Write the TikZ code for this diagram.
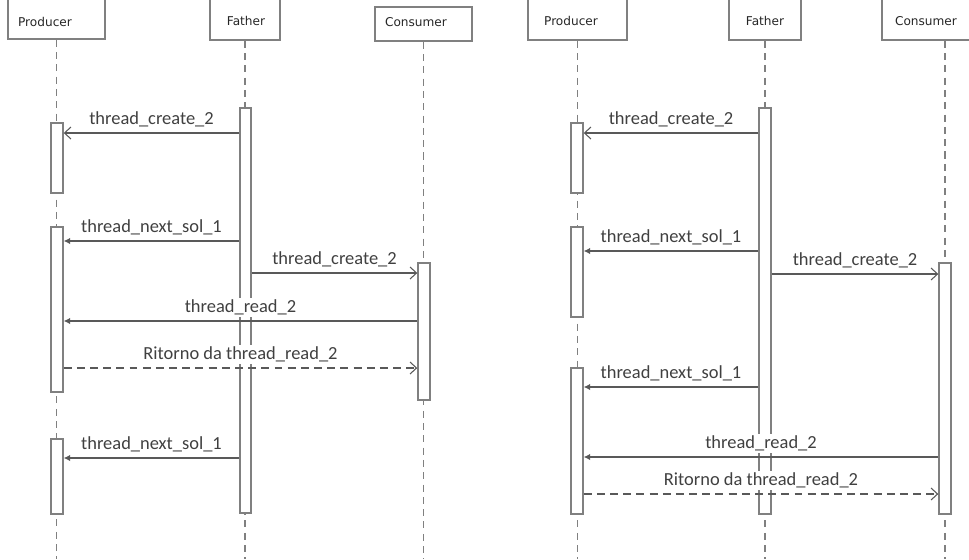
\documentclass[tikz,border=0pt]{standalone}
\usepackage{fontspec}
\setmainfont{Carlito}
\newfontfamily\hdfont{DejaVu Sans}
\usetikzlibrary{arrows.meta, fit}

\begin{document}
\begin{tikzpicture}[x=0.02cm, y=-0.02cm,
    hd/.style={draw=black!50, fill=white, line width=0.9pt, inner sep=0pt},
    ht/.style={font=\hdfont\fontsize{6.9}{8}\selectfont, text=black!85, inner sep=0pt},
    life/.style={draw=black!50, line width=0.7pt, dash pattern=on 4pt off 3pt},
    act/.style={draw=black!50, fill=white, line width=0.8pt, inner sep=0pt},
    msg/.style={draw=black!65, line width=0.6pt},
    ret/.style={dash pattern=on 4.5pt off 3pt},
    op/.style={-{Straight Barb[length=1.3mm, width=2.4mm]}},
    fl/.style={-{Latex[length=1.3mm, width=1.3mm]}},
    lbl/.style={above, fill=white, inner sep=1pt, yshift=2pt, text=black!75, font=\fontsize{10.5}{12}\selectfont},
]
\useasboundingbox (0,0) rectangle (969,559);
\clip (0,0) rectangle (969,559);

\node[hd, fit={(8,-10) (105,39)}] (lp) {};
\node[hd, fit={(210,-10) (280,40)}] (lf) {};
\node[hd, fit={(375,7) (472,41)}] (lc) {};
\node[ht] (lpt) at (45,22) {Producer};
\node[ht] (lft) at (246,21) {Father};
\node[ht] (lct) at (416,22) {Consumer};

\node[hd, fit={(528,-10) (627,40)}] (rp) {};
\node[hd, fit={(729,-10) (801,40)}] (rf) {};
\node[hd, fit={(882,-10) (1008,40)}] (rc) {};
\node[ht] (rpt) at (571,21) {Producer};
\node[ht] (rft) at (765,21) {Father};
\node[ht] (rct) at (926,21) {Consumer};

\foreach \l in {lp, lf, lc, rp, rf, rc}
    \draw[life] (\l) -- (\l |- 0,559);

\node[act, fit={(240,108) (251,513)}] (lfa) {};
\node[act, fit={(51,123) (63,193)}] (lpa1) {};
\node[act, fit={(51,227) (63,392)}] (lpa2) {};
\node[act, fit={(51,439) (63,514)}] (lpa3) {};
\node[act, fit={(418,263) (430,400)}] (lca) {};

\node[act, fit={(759,108) (771,514)}] (rfa) {};
\node[act, fit={(571,123) (583,193)}] (rpa1) {};
\node[act, fit={(571,227) (583,317)}] (rpa2) {};
\node[act, fit={(571,368) (583,514)}] (rpa3) {};
\node[act, fit={(939,263) (951,514)}] (rca) {};

\draw[msg, op] (lfa.west |- 0,133) -- node[lbl] {thread\_create\_2} (lpa1.east |- 0,133);
\draw[msg, fl] (lfa.west |- 0,241) -- node[lbl] {thread\_next\_sol\_1} (lpa2.east |- 0,241);
\draw[msg, op] (lfa.east |- 0,273) -- node[lbl] {thread\_create\_2} (lca.west |- 0,273);
\draw[msg, fl] (lca.west |- 0,321) -- node[lbl] {thread\_read\_2} (lpa2.east |- 0,321);
\draw[msg, op, ret] (lpa2.east |- 0,368) -- node[lbl] {Ritorno da thread\_read\_2} (lca.west |- 0,368);
\draw[msg, fl] (lfa.west |- 0,458) -- node[lbl] {thread\_next\_sol\_1} (lpa3.east |- 0,458);

\draw[msg, op] (rfa.west |- 0,133) -- node[lbl] {thread\_create\_2} (rpa1.east |- 0,133);
\draw[msg, fl] (rfa.west |- 0,251) -- node[lbl] {thread\_next\_sol\_1} (rpa2.east |- 0,251);
\draw[msg, op] (rfa.east |- 0,274) -- node[lbl] {thread\_create\_2} (rca.west |- 0,274);
\draw[msg, fl] (rfa.west |- 0,387) -- node[lbl] {thread\_next\_sol\_1} (rpa3.east |- 0,387);
\draw[msg, fl] (rca.west |- 0,457) -- node[lbl] {thread\_read\_2} (rpa3.east |- 0,457);
\draw[msg, op, ret] (rpa3.east |- 0,494) -- node[lbl] {Ritorno da thread\_read\_2} (rca.west |- 0,494);
\end{tikzpicture}
\end{document}
